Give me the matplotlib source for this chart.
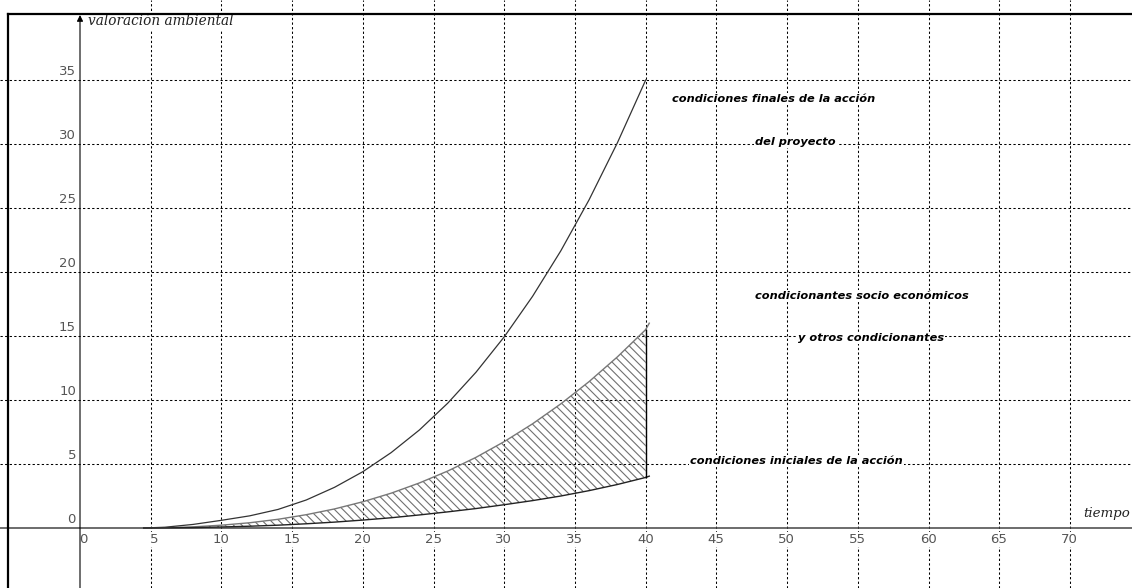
import matplotlib
matplotlib.use("Agg")
import matplotlib.pyplot as plt
from matplotlib.lines import Line2D

# Time values at which the curves were read
t = [4.5, 6, 8, 10, 12, 14, 16, 18, 20, 22, 24, 26, 28, 30, 32, 34, 36, 38, 40]

# condiciones finales de la acción del proyecto
v_final = [0.0, 0.06, 0.28, 0.6, 0.95, 1.45, 2.19, 3.18, 4.40, 5.89, 7.66, 9.75,
           12.17, 14.94, 18.10, 21.66, 25.65, 30.10, 35.0]
# condicionantes socio económicos y otros condicionantes (upper edge of band)
v_socio = [0.0, 0.02, 0.09, 0.22, 0.41, 0.68, 1.04, 1.49, 2.05, 2.72, 3.52, 4.45,
           5.52, 6.75, 8.14, 9.70, 11.44, 13.37, 15.5]
# condiciones iniciales de la acción (lower edge of band)
v_inicial = [0.0, 0.01, 0.03, 0.08, 0.14, 0.22, 0.33, 0.46, 0.62, 0.80, 1.02, 1.26,
             1.52, 1.82, 2.14, 2.50, 2.92, 3.40, 3.95]

# short overshoot of the two band curves past t = 40
t_tail = [40, 40.25]
v_socio_tail = [15.5, 16.0]
v_inicial_tail = [3.95, 4.05]

x_ticks = [0, 5, 10, 15, 20, 25, 30, 35, 40, 45, 50, 55, 60, 65, 70]
y_ticks = [0, 5, 10, 15, 20, 25, 30, 35]

W, H = 1132, 588
fig = plt.figure(figsize=(W / 100, H / 100), dpi=100)
ax = fig.add_axes([0, 0, 1, 1])
px_x = 990 / 70.0      # pixels per unit of time
px_y = 448 / 35.0      # pixels per unit of valuation
x0, y0 = 80, 528       # origin in pixels
ax.set_xlim(-x0 / px_x, (W - x0) / px_x)
ax.set_ylim(-(H - y0) / px_y, y0 / px_y)
ax.axis("off")

plt.rcParams["hatch.linewidth"] = 0.8
grid_kw = dict(color="black", lw=0.75, linestyle=(0, (2.2, 2.2)), zorder=1)
for xv in x_ticks[1:]:
    ax.axvline(xv, **grid_kw)
for yv in y_ticks[1:]:
    ax.axhline(yv, **grid_kw)

# axes through the origin
ax.axhline(0, color="#444444", lw=1.1, zorder=2)
top_val = (y0 - 15) / px_y
ax.annotate("", xy=(0, top_val), xytext=(0, ax.get_ylim()[0]),
            arrowprops=dict(arrowstyle="-|>", lw=0.8, color="black",
                            mutation_scale=9, shrinkA=0, shrinkB=0), zorder=6)

# frame on the left and top
fig.add_artist(Line2D([8 / W, 8 / W], [0, 1 - 14 / H], color="black", lw=1.6))
fig.add_artist(Line2D([8 / W, 1], [1 - 14 / H, 1 - 14 / H], color="black", lw=1.6))

# hatched band between initial conditions and socio-economic conditions
ax.fill_between(t, v_inicial, v_socio, facecolor="none", edgecolor="#707070",
                hatch="\\\\\\\\", linewidth=0, zorder=3)
ax.plot(t, v_socio, color="#777777", lw=1.0, zorder=4)
ax.plot(t_tail, v_socio_tail, color="#777777", lw=1.0, zorder=4)
ax.plot(t, v_inicial, color="#222222", lw=1.0, zorder=4)
ax.plot(t_tail, v_inicial_tail, color="#222222", lw=1.0, zorder=4)
ax.plot([t[-1], t[-1]], [v_inicial[-1], v_socio[-1]], color="black", lw=1.0, zorder=4)
ax.plot(t, v_final, color="#333333", lw=0.9, zorder=4)

# tick labels
tick_kw = dict(fontsize=9.5, color="#555555", family="DejaVu Sans", zorder=5)
white = dict(facecolor="white", edgecolor="none", pad=0.5)
for xv in x_ticks:
    ax.text(xv + 8 / px_x, -15 / px_y, str(xv), ha="right", va="baseline",
            bbox=white if xv else None, **tick_kw)
for yv in y_ticks:
    ax.text(-4 / px_x, yv + 5 / px_y, str(yv), ha="right", va="baseline", **tick_kw)

# axis titles
ax.text(8 / px_x, (y0 - 25) / px_y, "valoración ambiental", family="DejaVu Serif",
        style="italic", fontsize=9.8, ha="left", va="baseline", color="#222222",
        bbox=dict(facecolor="white", edgecolor="none", pad=1.5), zorder=5)
ax.text((1130 - x0) / px_x, (y0 - 517) / px_y, "tiempo", family="DejaVu Serif",
        style="italic", fontsize=9.6, ha="right", va="baseline", color="#222222", zorder=5)

# annotations
lab_kw = dict(family="DejaVu Sans", weight="bold", style="italic", fontsize=8.2,
              color="black", ha="left", va="baseline", zorder=5,
              bbox=dict(facecolor="white", edgecolor="none", pad=1.0))
ax.text((672 - x0) / px_x, (y0 - 102) / px_y, "condiciones finales de la acción", **lab_kw)
ax.text((755 - x0) / px_x, (y0 - 145) / px_y, "del proyecto", **lab_kw)
ax.text((755 - x0) / px_x, (y0 - 299) / px_y, "condicionantes socio económicos", **lab_kw)
ax.text((798 - x0) / px_x, (y0 - 341) / px_y, "y otros condicionantes", **lab_kw)
ax.text((690 - x0) / px_x, (y0 - 464) / px_y, "condiciones iniciales de la acción", **lab_kw)

fig.savefig("out.png", dpi=100, facecolor="white")
